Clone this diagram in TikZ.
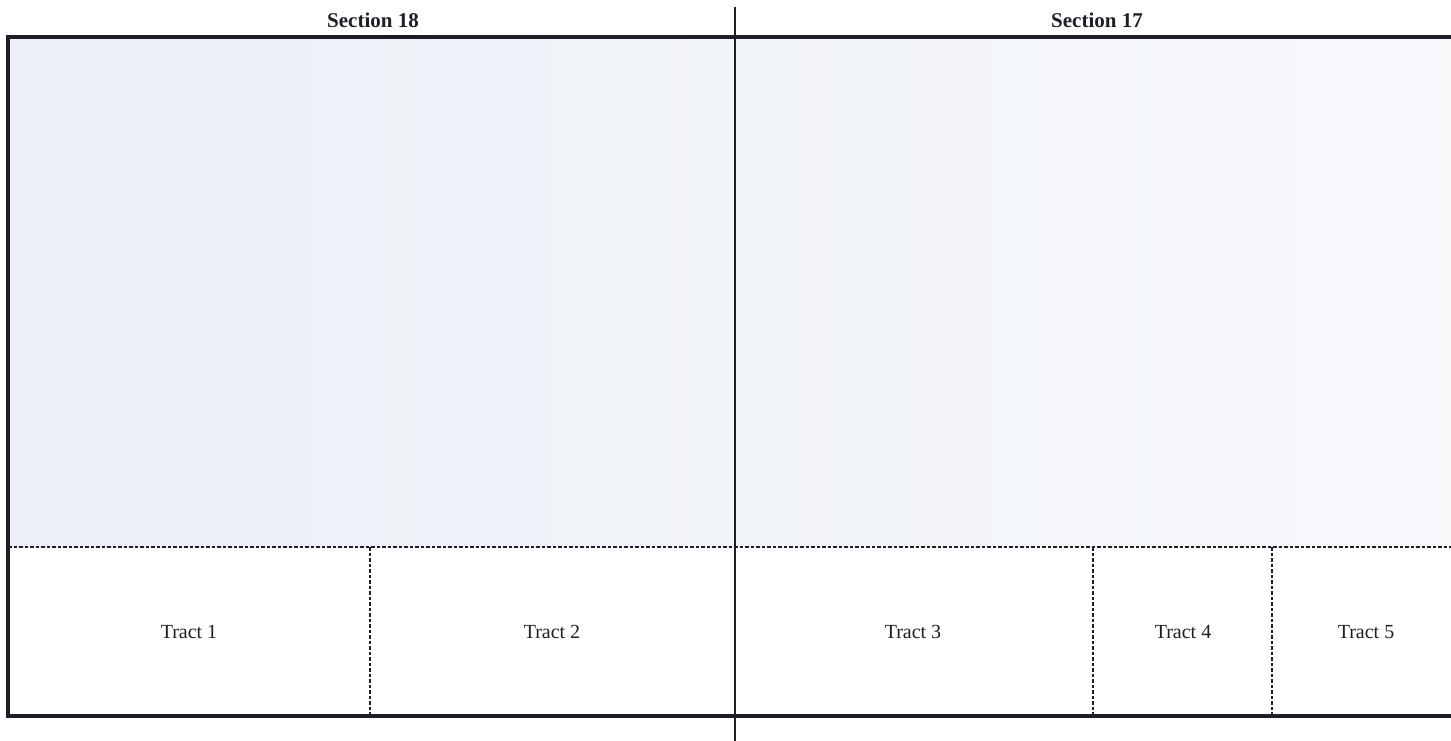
\documentclass[tikz,border=0pt]{standalone}
\usepackage{fontspec}
\setmainfont{Liberation Serif}
\usetikzlibrary{positioning}
\definecolor{plotink}{HTML}{1E1F26}
\definecolor{plotwash}{HTML}{EBEFF6}
\tikzset{
  boundary/.style={
    line width=3.2pt,
    draw=plotink
  },
  sectionline/.style={
    line width=2.6pt,
    draw=plotink
  },
  tractline/.style={
    line width=2pt,
    draw=plotink,
    dash pattern=on 3.5pt off 2pt
  },
  sectionlabel/.style={
    anchor=base,
    font=\fontsize{21}{24}\selectfont\bfseries,
    text=plotink
  },
  tractlabel/.style={
    anchor=base,
    font=\fontsize{20}{24}\selectfont,
    text=plotink
  }
}

\begin{document}
\begin{tikzpicture}[x=1pt,y=-1pt]
\useasboundingbox (0,0) rectangle (1451,741);
\fill[white] (0,0) rectangle (1451,741);
\shade[left color=plotwash, right color=plotwash!40!white] (8,37) rectangle (1460,547);
% tract divisions
\draw[tractline] (8,547) -- (1460,547);
\draw[tractline] (370,547) -- (370,716);
\draw[tractline] (1093,547) -- (1093,716);
\draw[tractline] (1272,547) -- (1272,716);
% outer boundary, open past the right edge
\draw[boundary] (1460,37) -- (8,37) -- (8,716) -- (1460,716);
% section line
\draw[sectionline] (735,7) -- (735,741);
% labels
\node[sectionlabel] (sec18) at (373,28) {Section 18};
\node[sectionlabel] (sec17) at (1097,28) {Section 17};
\node[tractlabel] (tract1) at (189,638) {Tract 1};
\node[tractlabel] (tract2) at (552,638) {Tract 2};
\node[tractlabel] (tract3) at (913,638) {Tract 3};
\node[tractlabel] (tract4) at (1183,638) {Tract 4};
\node[tractlabel] (tract5) at (1366,638) {Tract 5};
\end{tikzpicture}
\end{document}
